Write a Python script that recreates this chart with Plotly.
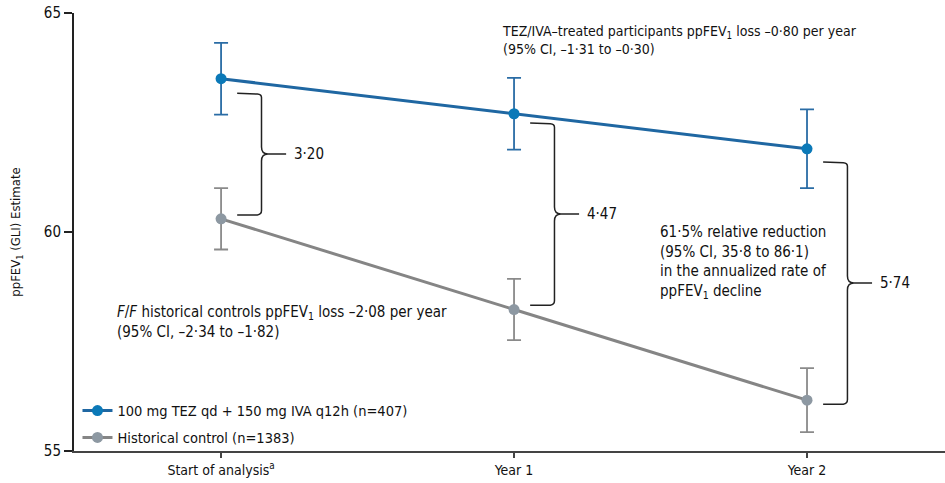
import plotly.graph_objects as go

# Time points and estimates
timepoints = ["Start of analysis<sup>a</sup>", "Year 1", "Year 2"]
tez_iva_mean = [63.50, 62.70, 61.90]
tez_iva_err = [0.82, 0.82, 0.90]
control_mean = [60.30, 58.23, 56.16]
control_err = [0.70, 0.70, 0.73]
gap_labels = ["3·20", "4·47", "5·74"]

FONT = "Liberation Sans Narrow, Arial Narrow, DejaVu Sans Condensed, sans-serif"
BLUE_LINE = "#1f67a2"
BLUE_MARK = "#0b79b8"
BLUE_ERR = "#2a6ca5"
GREY_LINE = "#858585"
GREY_MARK = "#8d98a2"
GREY_ERR = "#8a8a8a"
INK = "#111111"

x = list(range(len(timepoints)))

fig = go.Figure()
fig.add_trace(go.Scatter(
    x=x, y=tez_iva_mean, mode="lines+markers",
    name="100 mg TEZ qd + 150 mg IVA q12h (n=407)",
    legendgroup="a",
    line=dict(color=BLUE_LINE, width=3),
    marker=dict(color=BLUE_MARK, size=11),
    error_y=dict(type="data", array=tez_iva_err, color=BLUE_ERR,
                 thickness=1.8, width=7),
))
fig.add_trace(go.Scatter(
    x=x, y=control_mean, mode="lines+markers",
    name="Historical control (n=1383)",
    legendgroup="b",
    line=dict(color=GREY_LINE, width=3),
    marker=dict(color=GREY_MARK, size=11),
    error_y=dict(type="data", array=control_err, color=GREY_ERR,
                 thickness=1.8, width=7),
))

# Curly braces showing the between-group difference at each time point
top_pad = [0.33, 0.21, 0.30]
bot_pad = [0.09, 0.10, -0.09]
for i, (hi, lo, lab) in enumerate(zip(tez_iva_mean, control_mean, gap_labels)):
    yt = hi - top_pad[i]
    yb = lo + bot_pad[i]
    ym = (yt + yb) / 2
    xl = i + 0.055
    xv = i + 0.138
    xt = i + 0.222
    rx, ry = 0.014, 0.10
    cx, cy = 0.022, 0.16
    path = (f"M {xl},{yt} L {xv - rx},{yt - 0.02} Q {xv},{yt - 0.03} {xv},{yt - ry} "
            f"L {xv},{ym + cy} Q {xv},{ym} {xv + cx},{ym} L {xt},{ym} "
            f"M {xv + cx},{ym} Q {xv},{ym} {xv},{ym - cy} "
            f"L {xv},{yb + ry} Q {xv},{yb + 0.01} {xv - rx},{yb} L {xl},{yb}")
    fig.add_shape(type="path", path=path, xref="x", yref="y",
                  line=dict(color="#222222", width=1.5))
    fig.add_annotation(x=i + 0.242, y=ym, text=lab, showarrow=False,
                       xanchor="left", yanchor="middle",
                       font=dict(family=FONT, size=15, color=INK))

fig.add_annotation(
    x=0.952, y=64.38, xanchor="left", yanchor="middle", align="left",
    showarrow=False, font=dict(family=FONT, size=14, color=INK),
    text="TEZ/IVA–treated participants ppFEV<sub>1</sub> loss –0·80 per year<br>"
         "(95% CI, –1·31 to –0·30)")
fig.add_annotation(
    x=-0.362, y=57.95, xanchor="left", yanchor="middle", align="left",
    showarrow=False, font=dict(family=FONT, size=15, color=INK),
    text="<i>F</i>/<i>F</i> historical controls ppFEV<sub>1</sub> loss –2·08 per year<br>"
         "(95% CI, –2·34 to –1·82)")
fig.add_annotation(
    x=1.491, y=59.32, xanchor="left", yanchor="middle", align="left",
    showarrow=False, font=dict(family=FONT, size=15, color=INK),
    text="61·5% relative reduction<br>(95% CI, 35·8 to 86·1)<br>"
         "in the annualized rate of<br>ppFEV<sub>1</sub> decline")

fig.update_layout(
    width=945, height=483,
    margin=dict(l=74, r=0, t=13, b=32),
    paper_bgcolor="white", plot_bgcolor="white",
    font=dict(family=FONT, size=14, color=INK),
    showlegend=True,
    legend=dict(x=0.004, y=-0.006, xanchor="left", yanchor="bottom",
                bgcolor="rgba(0,0,0,0)", traceorder="grouped",
                tracegroupgap=5, font=dict(family=FONT, size=14.5, color=INK)),
    xaxis=dict(
        range=[-0.502, 2.471], tickmode="array", tickvals=x,
        ticktext=timepoints, showgrid=False, zeroline=False,
        showline=True, linecolor="#444444", linewidth=1.5,
        ticks="outside", ticklen=5, tickwidth=1.5, tickcolor="#444444",
        tickfont=dict(family=FONT, size=14, color=INK),
    ),
    yaxis=dict(
        range=[55, 65], tickvals=[55, 60, 65], showgrid=False,
        zeroline=False, showline=True, linecolor="#222222", linewidth=2,
        ticks="outside", ticklen=8, tickwidth=1.5, tickcolor="#222222",
        tickfont=dict(family=FONT, size=15, color=INK),
        title=dict(text="ppFEV<sub>1</sub> (GLI) Estimate",
                   font=dict(family=FONT, size=13, color=INK), standoff=20),
    ),
)

fig.write_html("out.html")
